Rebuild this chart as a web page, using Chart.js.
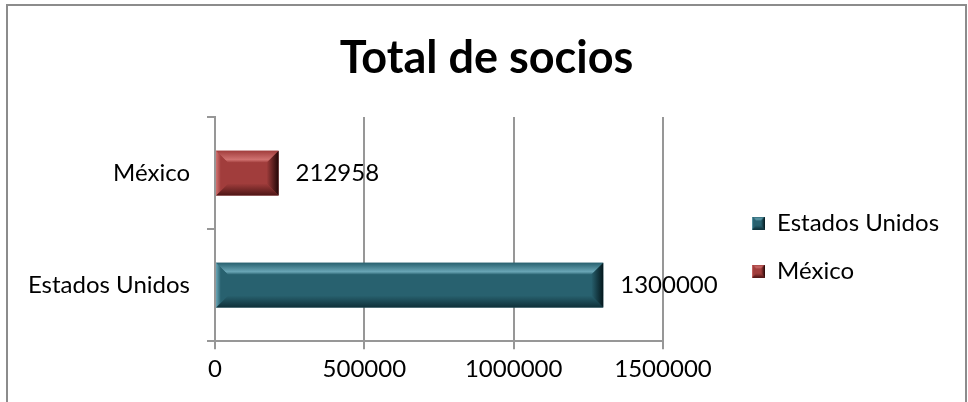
<!DOCTYPE html>
<html>
<head>
<meta charset="utf-8">
<script src="https://cdn.jsdelivr.net/npm/chart.js@4.4.1/dist/chart.umd.min.js"></script>
<style>
  html, body { margin: 0; padding: 0; background: #fff; overflow: hidden; }
  #frame { position: absolute; left: 6px; top: 4px; width: 957px; height: 420px; border: 2px solid #8c8c8c; }
  canvas { display: block; }
</style>
</head>
<body>
<div id="frame"><canvas id="sociosChart" width="957" height="396"></canvas></div>
<script>
// data
const categories = ['Estados Unidos', 'México'];
const socios = [1300000, 212958];
const xTicks = [0, 500000, 1000000, 1500000];

// colours per bar
const barColors = ['#28616f', '#a13d3c'];
const bevelLight = ['#6aa6b6', '#d07270'];
const bevelDark = ['#0f3039', '#4e1616'];
const bevelEdge = ['#04171c', '#220606'];

const gridColor = '#979797';
const fontFamily = 'Lato, "Open Sans", sans-serif';

function poly(ctx, pts, fill) {
    ctx.beginPath();
    ctx.moveTo(pts[0][0], pts[0][1]);
    for (let k = 1; k < pts.length; k++) ctx.lineTo(pts[k][0], pts[k][1]);
    ctx.closePath();
    ctx.fillStyle = fill;
    ctx.fill();
}

function drawBevel(ctx, x0, y0, x1, y1, i, size) {
    const b = Math.min(size, (y1 - y0) / 3, (x1 - x0) / 3);
    let g = ctx.createLinearGradient(0, y0, 0, y0 + b);
    g.addColorStop(0, barColors[i]);
    g.addColorStop(0.75, bevelLight[i]);
    g.addColorStop(1, barColors[i]);
    poly(ctx, [[x0, y0], [x1, y0], [x1 - b, y0 + b], [x0 + b, y0 + b]], g);

    g = ctx.createLinearGradient(0, y1 - b, 0, y1);
    g.addColorStop(0, barColors[i]);
    g.addColorStop(1, bevelDark[i]);
    poly(ctx, [[x0, y1], [x1, y1], [x1 - b, y1 - b], [x0 + b, y1 - b]], g);

    g = ctx.createLinearGradient(x1 - b, 0, x1, 0);
    g.addColorStop(0, barColors[i]);
    g.addColorStop(1, bevelEdge[i]);
    poly(ctx, [[x1, y0], [x1, y1], [x1 - b, y1 - b], [x1 - b, y0 + b]], g);

    g = ctx.createLinearGradient(x0, 0, x0 + b, 0);
    g.addColorStop(0, bevelLight[i]);
    g.addColorStop(0.4, barColors[i]);
    g.addColorStop(1, barColors[i]);
    poly(ctx, [[x0, y0], [x0, y1], [x0 + b, y1 - b], [x0 + b, y0 + b]], g);
}

// little bevelled squares for the legend
const legendIcons = barColors.map((c, i) => {
    const cv = document.createElement('canvas');
    cv.width = 13;
    cv.height = 13;
    const c2 = cv.getContext('2d');
    c2.fillStyle = c;
    c2.fillRect(0, 0, 13, 13);
    drawBevel(c2, 0, 0, 13, 13, i, 4);
    return cv;
});

const bevelPlugin = {
    id: 'bevel',
    afterDatasetsDraw(chart) {
        const ctx = chart.ctx;
        chart.getDatasetMeta(0).data.forEach((bar, i) => {
            const p = bar.getProps(['x', 'y', 'base', 'height'], true);
            drawBevel(ctx, Math.min(p.base, p.x), p.y - p.height / 2, Math.max(p.base, p.x), p.y + p.height / 2, i, 12);
        });
    }
};

const valueLabels = {
    id: 'valueLabels',
    afterDatasetsDraw(chart) {
        const ctx = chart.ctx;
        ctx.save();
        ctx.font = '24px ' + fontFamily;
        ctx.fillStyle = '#000';
        ctx.textAlign = 'left';
        ctx.textBaseline = 'middle';
        chart.getDatasetMeta(0).data.forEach((bar, i) => {
            ctx.fillText(String(socios[i]), bar.x + 17, bar.y);
        });
        ctx.restore();
    }
};

// title over the whole width, legend right of the plot like Excel had it
const placeBoxes = {
    id: 'placeBoxes',
    afterLayout(chart) {
        const tb = chart.titleBlock;
        tb.left = 0;
        tb.right = chart.width;
        tb.width = chart.width;

        const lg = chart.legend;
        const pad = lg.options.labels.padding;
        const w = lg.width;
        lg.left = chart.chartArea.right + 89 - pad;
        lg.right = lg.left + w;
        lg.top = chart.chartArea.top + 70;
        lg.bottom = lg.top + 160;
        lg.height = 160;
    }
};

const ctx = document.getElementById('sociosChart').getContext('2d');
const sociosChart = new Chart(ctx, {
    type: 'bar',
    data: {
        labels: categories,
        datasets: [{
            label: 'Total de socios',
            data: socios,
            backgroundColor: barColors,
            borderWidth: 0,
            categoryPercentage: 1,
            barPercentage: 0.4
        }]
    },
    options: {
        indexAxis: 'y',
        responsive: false,
        animation: false,
        layout: { padding: { left: 0, right: 302, top: 0, bottom: 12 } },
        scales: {
            x: {
                min: xTicks[0],
                max: xTicks[xTicks.length - 1],
                afterBuildTicks: s => { s.ticks = xTicks.map(v => ({ value: v })); },
                ticks: {
                    callback: v => String(v),
                    color: '#000',
                    font: { family: fontFamily, size: 24 },
                    padding: 6,
                    maxRotation: 0,
                    autoSkip: false
                },
                grid: { color: gridColor, lineWidth: 2, tickLength: 8 },
                border: { color: gridColor, width: 2 }
            },
            y: {
                reverse: true,
                offset: true,
                afterFit: s => { s.width = 207; },
                ticks: {
                    color: '#000',
                    font: { family: fontFamily, size: 24 },
                    padding: 17
                },
                grid: { offset: true, drawOnChartArea: false, color: gridColor, lineWidth: 2, tickLength: 8 },
                border: { color: gridColor, width: 2 }
            }
        },
        plugins: {
            title: {
                display: true,
                text: 'Total de socios',
                color: '#000',
                font: { family: fontFamily, size: 45, weight: 'bold', lineHeight: 1.2 },
                padding: { top: 25.6, bottom: 31.4 }
            },
            legend: {
                position: 'chartArea',
                align: 'start',
                labels: {
                    usePointStyle: true,
                    boxWidth: 13,
                    padding: 24,
                    color: '#000',
                    font: { family: fontFamily, size: 24 },
                    generateLabels: () => categories.map((c, i) => ({
                        text: c,
                        fillStyle: barColors[i],
                        strokeStyle: barColors[i],
                        lineWidth: 0,
                        pointStyle: legendIcons[i],
                        hidden: false,
                        index: i,
                        fontColor: '#000'
                    }))
                }
            },
            tooltip: { enabled: false }
        }
    },
    plugins: [bevelPlugin, valueLabels, placeBoxes]
});
</script>
</body>
</html>
